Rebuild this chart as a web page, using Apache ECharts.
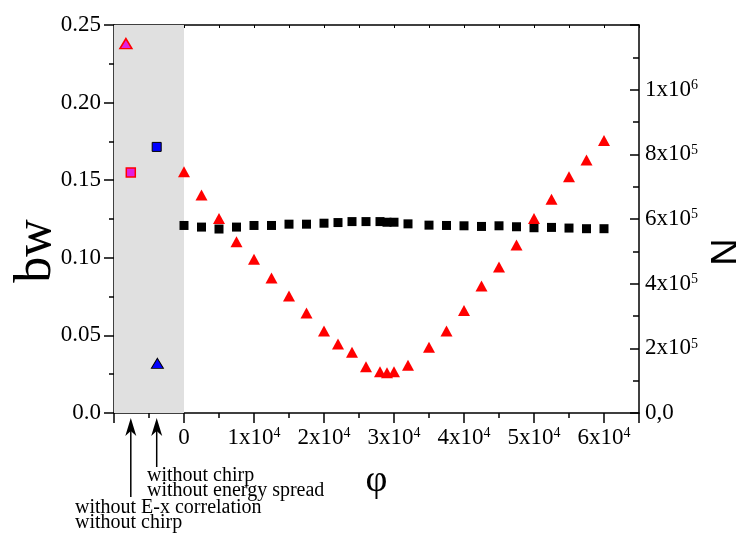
<!DOCTYPE html>
<html>
<head>
<meta charset="utf-8">
<script src="https://cdn.jsdelivr.net/npm/echarts@6/dist/echarts.min.js"></script>
<style>
  html, body { margin: 0; padding: 0; background: #fff; }
  #main { width: 736px; height: 534px; }
</style>
</head>
<body>
<div id="main"></div>
<script>
// phi values of the scan
var phi = [0, 2500, 5000, 7500, 10000, 12500, 15000, 17500, 20000, 22000, 24000, 26000, 28000, 29000,
           30000, 32000, 35000, 37500, 40000, 42500, 45000, 47500, 50000, 52500, 55000, 57500, 60000];
// bandwidth (left axis) - red triangles
var bw = [0.1555, 0.1405, 0.1254, 0.1104, 0.0990, 0.0870, 0.0754, 0.0644, 0.0528, 0.0445, 0.0391, 0.0298, 0.0266, 0.0260,
          0.0266, 0.0307, 0.0423, 0.0528, 0.0660, 0.0818, 0.0940, 0.1082, 0.1254, 0.1377, 0.1523, 0.1630, 0.1755];
// photon number (right axis) - black squares
var nPhot = [580000, 575000, 569000, 575000, 580000, 580000, 584000, 584000, 587000, 589000, 592000, 592000, 592000, 590000,
             590000, 585000, 581000, 580000, 579000, 577000, 579000, 576000, 573000, 574000, 572000, 570000, 570000];

// reference cases in the grey band
var casePhiBw = [-8300, -3800];
var caseBw = [0.238, 0.032];
var casePhiN = [-7600, -3900];
var caseN = [744000, 823000];
var caseLabels = [['without E-x correlation', 'without chirp'], ['without chirp', 'without energy spread']];

var serif = 'Liberation Serif, Times New Roman, serif';

function pairs(xs, ys) {
    var out = [];
    for (var i = 0; i < xs.length; i++) out.push([xs[i], ys[i]]);
    return out;
}

function xLabel(v) {
    if (v < 0 || v > 60000) return '';
    if (v === 0) return '{m|0}';
    return '{m|' + (v / 10000) + 'x10}{s|4}';
}
function nLabel(v) {
    if (v === 0) return '{m|0,0}';
    if (v > 1000000) return '';
    if (v === 1000000) return '{m|1x10}{s|6}';
    return '{m|' + Math.round(v / 100000) + 'x10}{s|5}';
}
var rich = {
    m: { fontSize: 23, fontFamily: serif, color: '#000' },
    s: { fontSize: 14, lineHeight: 9, fontFamily: serif, color: '#000', verticalAlign: 'top' }
};

var lineBlack = { color: '#000', width: 1.5 };

var chart = echarts.init(document.getElementById('main'));

var option = {
    animation: false,
    grid: { left: 114, right: 97, top: 25, bottom: 121, outerBoundsMode: 'none', containLabel: false },
    xAxis: [
        {
            type: 'value', min: -10000, max: 65000, interval: 10000,
            name: 'φ', nameLocation: 'middle', nameGap: 49,
            nameTextStyle: { fontSize: 38, fontFamily: serif, color: '#000' },
            axisLine: { onZero: false, lineStyle: lineBlack },
            axisTick: { length: 10, lineStyle: lineBlack },
            minorTick: { show: true, splitNumber: 2, length: 5, lineStyle: lineBlack },
            axisLabel: { margin: 13, formatter: xLabel, rich: rich },
            splitLine: { show: false }
        },
        {
            type: 'value', position: 'top', min: -10000, max: 65000, interval: 5000,
            axisLine: { onZero: false, lineStyle: lineBlack },
            axisTick: { inside: true, length: 3, lineStyle: { color: '#000', width: 1 } },
            axisLabel: { show: false },
            splitLine: { show: false }
        }
    ],
    yAxis: [
        {
            type: 'value', min: 0, max: 0.25, interval: 0.05,
            name: 'bw', nameLocation: 'middle', nameGap: 52, nameMoveOverlap: false,
            nameTextStyle: { fontSize: 52, fontFamily: serif, color: '#000', padding: [0, 64, 0, 0] },
            axisLine: { onZero: false, lineStyle: lineBlack },
            axisTick: { length: 10, lineStyle: lineBlack },
            minorTick: { show: true, splitNumber: 2, length: 5, lineStyle: lineBlack },
            axisLabel: {
                margin: 13, fontSize: 23, fontFamily: serif, color: '#000',
                formatter: function (v) { return v === 0 ? '0.0' : v.toFixed(2); }
            },
            splitLine: { show: false }
        },
        {
            type: 'value', position: 'right', min: 0, max: 1200000, interval: 200000,
            name: 'N', nameLocation: 'middle', nameGap: 70,
            nameTextStyle: { fontSize: 38, fontFamily: 'Liberation Sans, Arial, sans-serif', color: '#000', padding: [0, 66, 0, 0] },
            axisLine: { onZero: false, lineStyle: lineBlack },
            axisTick: { inside: true, length: 9, lineStyle: lineBlack },
            minorTick: { show: true, splitNumber: 2, length: 6, lineStyle: lineBlack },
            axisLabel: { margin: 6, formatter: nLabel, rich: rich },
            splitLine: { show: false }
        }
    ],
    series: [
        {
            name: 'shade', type: 'line', data: [], z: 0,
            markArea: {
                silent: true,
                itemStyle: { color: '#e0e0e0' },
                data: [[{ xAxis: -10000 }, { xAxis: 0 }]]
            }
        },
        {
            name: 'N', type: 'scatter', yAxisIndex: 1, z: 3,
            symbol: 'rect', symbolSize: 9,
            itemStyle: { color: '#000', opacity: 1 },
            data: pairs(phi, nPhot)
        },
        {
            name: 'bw', type: 'scatter', yAxisIndex: 0, z: 4,
            symbol: 'triangle', symbolSize: [12, 11],
            itemStyle: { color: '#ff0000', opacity: 1 },
            data: pairs(phi, bw)
        },
        {
            name: 'bw case 1', type: 'scatter', yAxisIndex: 0, z: 4,
            symbol: 'triangle', symbolSize: [12, 10],
            itemStyle: { color: '#e020e0', borderColor: '#ff0000', borderWidth: 1.5, opacity: 1 },
            data: [[casePhiBw[0], caseBw[0]]]
        },
        {
            name: 'N case 1', type: 'scatter', yAxisIndex: 1, z: 4,
            symbol: 'rect', symbolSize: 9,
            itemStyle: { color: '#e020e0', borderColor: '#ff0000', borderWidth: 1.5, opacity: 1 },
            data: [[casePhiN[0], caseN[0]]]
        },
        {
            name: 'bw case 2', type: 'scatter', yAxisIndex: 0, z: 4,
            symbol: 'triangle', symbolSize: [12, 10],
            itemStyle: { color: '#0000ff', borderColor: '#000', borderWidth: 1, opacity: 1 },
            data: [[casePhiBw[1], caseBw[1]]]
        },
        {
            name: 'N case 2', type: 'scatter', yAxisIndex: 1, z: 4,
            symbol: 'rect', symbolSize: 9,
            itemStyle: { color: '#0000ff', borderColor: '#000', borderWidth: 1, opacity: 1 },
            data: [[casePhiN[1], caseN[1]]]
        }
    ]
};

chart.setOption(option);

// arrows and notes under the grey band
var arrowEnds = [497, 467];
var textPos = [[75, 508], [147, 476]];
var graphics = [];
for (var i = 0; i < casePhiN.length; i++) {
    var ax = chart.convertToPixel({ xAxisIndex: 0 }, casePhiN[i]);
    graphics.push({
        type: 'line', silent: true,
        shape: { x1: ax, y1: 428, x2: ax, y2: arrowEnds[i] },
        style: { stroke: '#000', lineWidth: 1.5 }
    });
    graphics.push({
        type: 'polygon', silent: true,
        shape: { points: [[ax, 418], [ax + 5.5, 436], [ax, 431], [ax - 5.5, 436]] },
        style: { fill: '#000' }
    });
    for (var j = 0; j < caseLabels[i].length; j++) {
        graphics.push({
            type: 'text', silent: true,
            style: {
                x: textPos[i][0], y: textPos[i][1] + j * 15,
                text: caseLabels[i][j],
                font: '20px ' + serif, fill: '#000',
                textVerticalAlign: 'middle'
            }
        });
    }
}
chart.setOption({ graphic: graphics });
</script>
</body>
</html>
